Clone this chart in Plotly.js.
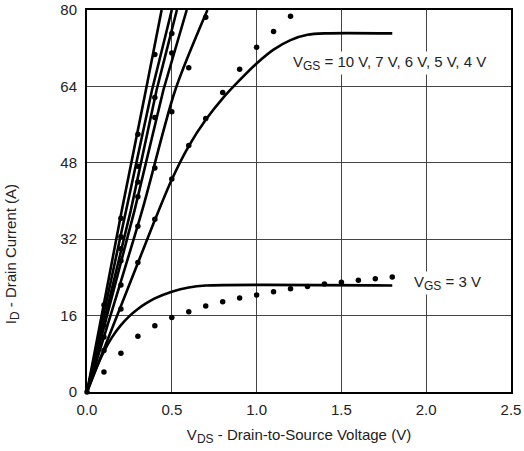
<!DOCTYPE html>
<html>
<head>
<meta charset="utf-8">
<script src="https://cdn.plot.ly/plotly-3.0.1.min.js"></script>
<style>html,body{margin:0;padding:0;background:#fff;}#chart{width:524px;height:451px;}</style>
</head>
<body>
<div id="chart"></div>
<script>
// Solid model lines (VDS in V, ID in A)
const line10X = [0, 0.205, 0.347, 0.44];
const line10Y = [0, 38, 63.2, 80];
const line7X = [0, 0.232, 0.383, 0.50];
const line7Y = [0, 38, 63.2, 80];
const line6X = [0, 0.258, 0.41, 0.53];
const line6Y = [0, 38, 63.2, 80];
const line5X = [0, 0.28, 0.45, 0.588];
const line5Y = [0, 38, 63.2, 80];
const line4X = [0, 0.325, 0.52, 0.71];
const line4Y = [0, 38, 63.2, 80];
const curveSatX = [0, 0.1, 0.2, 0.3, 0.4, 0.5, 0.6, 0.7, 0.8, 0.9, 1.0, 1.1, 1.2, 1.3, 1.4, 1.8];
const curveSatY = [0, 9, 18, 27, 36, 44.5, 51.5, 57, 61.5, 65.3, 68.8, 71.7, 73.7, 74.8, 75.1, 75.1];
const curve3X = [0, 0.05, 0.1, 0.15, 0.2, 0.25, 0.3, 0.35, 0.4, 0.5, 0.6, 0.7, 1.8];
const curve3Y = [0, 4.6, 8.5, 11.6, 14, 15.9, 17.4, 18.6, 19.6, 21, 21.9, 22.3, 22.3];

// Measured points
const dot10X = [0, 0.1, 0.2, 0.3];
const dot10Y = [0, 18.2, 36.4, 54.0];
const dot7X = [0.1, 0.2, 0.3, 0.4];
const dot7Y = [16.5, 32.5, 47.3, 70.7];
const dot6X = [0.1, 0.2, 0.3, 0.4, 0.5];
const dot6Y = [15, 30, 44, 61.7, 75.1];
const dot5X = [0.1, 0.2, 0.3, 0.4, 0.5];
const dot5Y = [14, 27.5, 40.9, 57.5, 71];
const dot4X = [0.1, 0.2, 0.3, 0.4, 0.5, 0.6, 0.7];
const dot4Y = [11.5, 22.4, 34.7, 46.9, 58.7, 67.9, 78.5];
const dotSatX = [0.1, 0.2, 0.3, 0.4, 0.5, 0.6, 0.7, 0.8, 0.9, 1.0, 1.1, 1.2];
const dotSatY = [8.7, 17.4, 27.1, 36.2, 44.6, 51.6, 57.3, 62.7, 67.6, 72.2, 75.5, 78.7];
const dot3X = [0.1, 0.2, 0.3, 0.4, 0.5, 0.6, 0.7, 0.8, 0.9, 1.0, 1.1, 1.2, 1.3, 1.4, 1.5, 1.6, 1.7, 1.8];
const dot3Y = [4.2, 8.1, 11.7, 13.9, 15.6, 16.8, 18.0, 18.9, 19.7, 20.3, 21.0, 21.6, 22.1, 22.6, 23.0, 23.4, 23.7, 24.1];

const xTicks = [0, 0.5, 1.0, 1.5, 2.0, 2.5];
const yTicks = [0, 16, 32, 48, 64, 80];

const lineStyle = {color: '#000', width: 2.6};
function ln(x, y, shape) {
  return {x: x, y: y, mode: 'lines', line: Object.assign({shape: shape || 'linear'}, lineStyle, shape === 'spline' ? {smoothing: 0.8} : {}), hoverinfo: 'skip'};
}
function dots(x, y) {
  return {x: x, y: y, mode: 'markers', marker: {color: '#000', size: 5.5}, hoverinfo: 'skip', cliponaxis: false};
}

const data = [
  ln(line10X, line10Y), ln(line7X, line7Y), ln(line6X, line6Y), ln(line5X, line5Y),
  ln(line4X, line4Y, 'spline'), ln(curveSatX, curveSatY, 'spline'), ln(curve3X, curve3Y, 'spline'),
  dots(dot10X, dot10Y), dots(dot7X, dot7Y), dots(dot6X, dot6Y), dots(dot5X, dot5Y),
  dots(dot4X, dot4Y), dots(dotSatX, dotSatY), dots(dot3X, dot3Y)
];

const font = {family: '"Liberation Sans", Arial, Helvetica, sans-serif', size: 15, color: '#222'};
const sub = s => '<sub><span style="font-size:12px">' + s + '</span></sub>';

const layout = {
  width: 524, height: 451,
  margin: {l: 87, r: 13, t: 10, b: 59},
  showlegend: false,
  paper_bgcolor: '#fff', plot_bgcolor: '#fff',
  font: font,
  xaxis: {
    range: [0, 2.5], tickvals: xTicks, ticktext: xTicks.map(v => v.toFixed(1)),
    showgrid: true, gridcolor: '#444', gridwidth: 1,
    showline: true, linecolor: '#000', linewidth: 2, mirror: true,
    zeroline: false, ticks: '', ticklabelstandoff: 3,
    title: {text: 'V' + sub('DS') + ' - Drain-to-Source Voltage (V)', font: font, standoff: 12}
  },
  yaxis: {
    range: [0, 80], tickvals: yTicks,
    showgrid: true, gridcolor: '#444', gridwidth: 1,
    showline: true, linecolor: '#000', linewidth: 2, mirror: true,
    zeroline: false, ticks: '', ticklabelstandoff: 5
  },
  annotations: [
    {xref: 'paper', yref: 'paper', x: -0.175, y: 0.36, text: 'I' + sub('D') + ' - Drain Current (A)', textangle: -90, showarrow: false, font: font, xanchor: 'center', yanchor: 'middle'},
    {x: 1.2, y: 68.9, text: 'V' + sub('GS') + ' = 10 V, 7 V, 6 V, 5 V, 4 V', showarrow: false, xanchor: 'left', yanchor: 'middle', font: font, bgcolor: '#fff'},
    {x: 1.915, y: 22.8, text: 'V' + sub('GS') + ' = 3 V', showarrow: false, xanchor: 'left', yanchor: 'middle', font: font, bgcolor: '#fff'}
  ]
};

Plotly.newPlot('chart', data, layout, {displayModeBar: false, staticPlot: true});
</script>
</body>
</html>
